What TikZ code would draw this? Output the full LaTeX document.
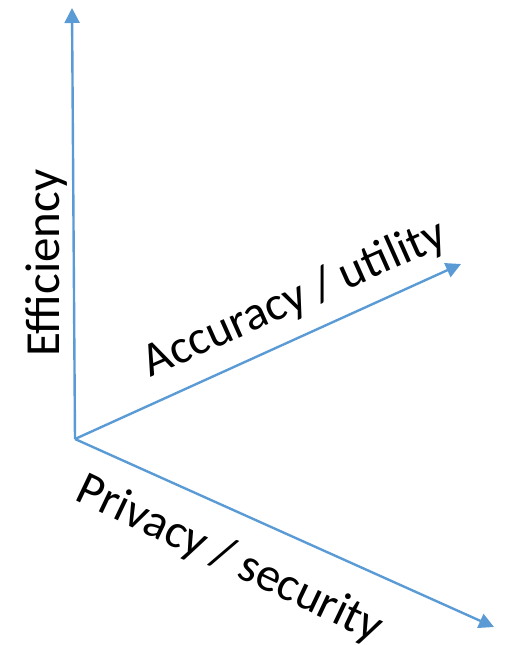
\documentclass[tikz,border=0pt]{standalone}
\usepackage{fontspec}
\setmainfont{Carlito}
\usetikzlibrary{arrows.meta}
\definecolor{axisblue}{HTML}{5B9BD5}
\begin{document}
\begin{tikzpicture}[x=1pt,y=-1pt,
  axis/.style={draw=axisblue,line width=2.4pt,-{Triangle[length=15pt,width=15pt]}},
  axislabel/.style={inner sep=0pt,anchor=base,font=\fontsize{48}{58}\selectfont}]
\useasboundingbox (0,0) rectangle (513,645);
\coordinate (o) at (75,439);
\coordinate (eff) at (72,8);
\coordinate (acc) at (461,264);
\coordinate (priv) at (494,627);
\draw[axis] (o) -- (eff);
\draw[axis] (o) -- (acc);
\draw[axis] (o) -- (priv);
\node[axislabel,rotate=90,font=\fontsize{49}{58}\selectfont] (leff) at (59,263) {Efficiency};
\node[axislabel,rotate=24] (lacc) at (300,311) {Accuracy / utility};
\node[axislabel,rotate=-25.5] (lpriv) at (224,571) {Privacy / security};
\end{tikzpicture}
\end{document}
